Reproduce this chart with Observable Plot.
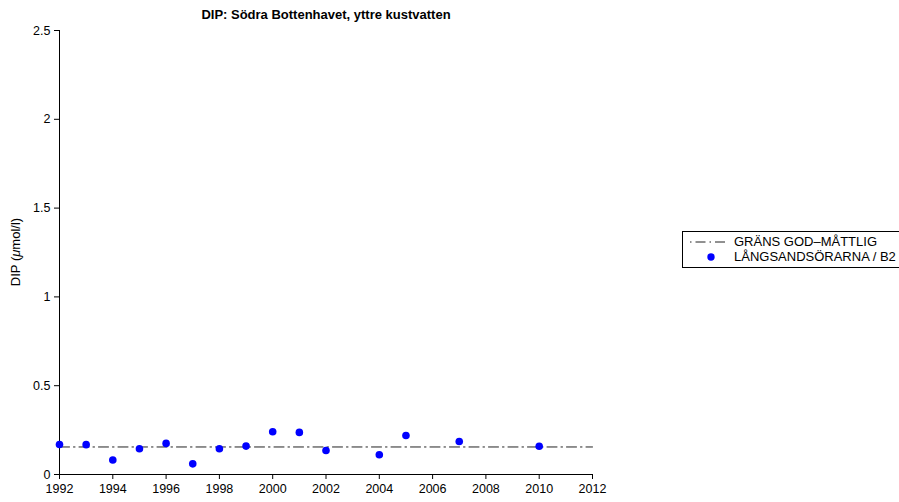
<!DOCTYPE html>
<html>
<head>
<meta charset="utf-8">
<script src="https://cdn.jsdelivr.net/npm/d3@7"></script>
<script src="https://cdn.jsdelivr.net/npm/@observablehq/plot@0.6"></script>
<style>
  body { margin: 0; background: #fff; font-family: "Liberation Sans", Arial, sans-serif; }
  #wrap { position: relative; width: 899px; height: 502px; overflow: hidden; }
  #title { position: absolute; left: 126px; width: 400px; top: 7px; text-align: center; font-weight: bold; font-size: 13px; white-space: nowrap; }
  #ylab { position: absolute; left: 15px; top: 252px; font-size: 13px; transform: translate(-50%, -50%) rotate(-90deg); white-space: nowrap; }
  #legend { position: absolute; left: 682px; top: 231px; width: 240px; height: 35px; border: 1px solid #000; background: #fff; font-size: 13px; }
  .row { position: absolute; left: 0; height: 16px; width: 240px; }
  .row span { position: absolute; left: 51px; top: 0px; white-space: nowrap; line-height: 16px; }
</style>
</head>
<body>
<div id="wrap">
  <div id="chart"></div>
  <div id="title">DIP: Södra Bottenhavet, yttre kustvatten</div>
  <div id="ylab">DIP (<i>μ</i>mol/l)</div>
  <div id="legend">
    <div class="row" style="top:2px;">
      <svg width="48" height="16" style="position:absolute;left:0;top:0"><line x1="7" y1="8" x2="44" y2="8" stroke="#222" stroke-width="1" stroke-dasharray="1.5,4,10,4"/></svg>
      <span>GRÄNS GOD–MÅTTLIG</span>
    </div>
    <div class="row" style="top:17px;">
      <svg width="48" height="16" style="position:absolute;left:0;top:0"><circle cx="28" cy="8" r="3.7" fill="#0000ff"/></svg>
      <span>LÅNGSANDSÖRARNA / B2</span>
    </div>
  </div>
</div>
<script>
const years = [1992, 1993, 1994, 1995, 1996, 1997, 1998, 1999, 2000, 2001, 2002, 2004, 2005, 2007, 2010];
const dip = [0.169, 0.168, 0.082, 0.145, 0.175, 0.060, 0.145, 0.160, 0.241, 0.237, 0.135, 0.111, 0.220, 0.186, 0.159];
const thresholdYears = [1992, 2012];
const thresholdValue = 0.155;
const xTicks = [1992, 1994, 1996, 1998, 2000, 2002, 2004, 2006, 2008, 2010, 2012];
const yTicks = [0, 0.5, 1, 1.5, 2, 2.5];

const points = years.map((y, i) => ({year: y, value: dip[i]}));
const thr = thresholdYears.map(y => ({year: y, value: thresholdValue}));

const chart = Plot.plot({
  width: 899,
  height: 502,
  marginLeft: 59,
  marginRight: 307,
  marginTop: 30,
  marginBottom: 28,
  style: {fontFamily: "'Liberation Sans', Arial, sans-serif", fontSize: "12.5px", color: "#000", background: "#fff"},
  x: {domain: [1992, 2012], label: null},
  y: {domain: [0, 2.5], label: null},
  marks: [
    Plot.axisX({ticks: xTicks, tickFormat: d => String(d), tickSize: 5, tickPadding: 5, label: null, fontSize: 12.5}),
    Plot.axisY({ticks: yTicks, tickFormat: d => String(d), tickSize: 5, tickPadding: 4, label: null, fontSize: 12.5}),
    Plot.ruleX([1992], {y1: 0, y2: 2.5, stroke: "#000"}),
    Plot.ruleY([0], {x1: 1992, x2: 2012, stroke: "#000"}),
    Plot.line(thr, {x: "year", y: "value", stroke: "#222", strokeWidth: 1, strokeDasharray: "10,4,1.5,4"}),
    Plot.dot(points, {x: "year", y: "value", r: 3.8, fill: "#0000ff", stroke: null})
  ]
});
document.getElementById("chart").appendChild(chart);
</script>
</body>
</html>
